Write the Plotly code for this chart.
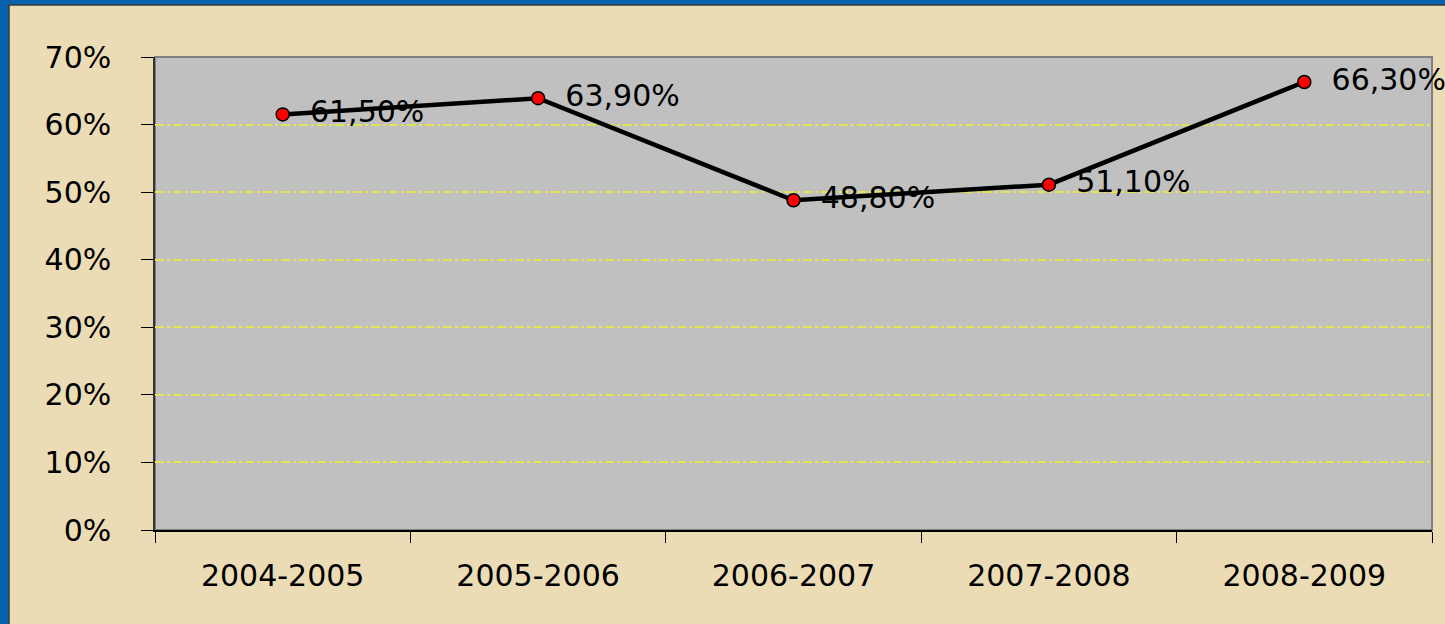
import plotly.graph_objects as go

categories = ["2004-2005", "2005-2006", "2006-2007", "2007-2008", "2008-2009"]
values = [0.615, 0.639, 0.488, 0.511, 0.663]
labels = ["61,50%", "63,90%", "48,80%", "51,10%", "66,30%"]
y_ticks = [0, 0.1, 0.2, 0.3, 0.4, 0.5, 0.6, 0.7]
y_tick_text = ["0%", "10%", "20%", "30%", "40%", "50%", "60%", "70%"]

W, H = 1445, 624
L, R, T, B = 155, 13, 57, 94
pw, ph = W - L - R, H - T - B

def px_x(p):
    return (p - L) / pw

def px_y(p):
    return (H - B - p) / ph

FONT = "DejaVu Sans"
PARCH = "#ecdcb5"

fig = go.Figure()

# labels underneath the line
fig.add_trace(go.Scatter(
    x=categories, y=values, mode="markers+text", text=labels,
    textposition="middle right",
    marker=dict(size=42, opacity=0),
    textfont=dict(family=FONT, size=30, color="#000000"),
    hoverinfo="skip", showlegend=False, cliponaxis=False,
))

fig.add_trace(go.Scatter(
    x=categories, y=values, mode="lines+markers",
    line=dict(color="#000000", width=4.5),
    marker=dict(size=13, color="#ff0000", line=dict(color="#000000", width=1.5)),
    showlegend=False, cliponaxis=False,
))

shapes = [
    # parchment panel over the blue frame
    dict(type="rect", xref="paper", yref="paper", layer="below",
         x0=px_x(9), x1=px_x(W + 5), y0=px_y(H + 5), y1=px_y(5),
         fillcolor=PARCH, line=dict(color="#3a3a3a", width=1.5)),
    # gray plot area
    dict(type="rect", xref="paper", yref="paper", layer="below",
         x0=0, x1=1, y0=0, y1=1,
         fillcolor="#c0c0c0", line=dict(color="#808080", width=2)),
]

fig.update_layout(
    width=W, height=H,
    margin=dict(l=L, r=R, t=T, b=B, pad=0),
    paper_bgcolor="#0763ad",
    plot_bgcolor="#c0c0c0",
    shapes=shapes,
    font=dict(family=FONT, size=30, color="#000000"),
    xaxis=dict(
        type="category", range=[-0.5, 4.5], tickson="boundaries",
        ticks="outside", ticklen=11, tickwidth=1, tickcolor="#000000",
        showgrid=False, showline=True, linecolor="#000000", linewidth=1.5,
        tickfont=dict(family=FONT, size=30, color="#000000"),
        ticklabelstandoff=18, fixedrange=True,
    ),
    yaxis=dict(
        range=[0, 0.7], tickvals=y_ticks, ticktext=y_tick_text,
        ticks="outside", ticklen=12, tickwidth=1, tickcolor="#000000",
        showgrid=True, gridcolor="#e4e450", gridwidth=1.5, griddash="dashdot",
        showline=True, linecolor="#333333", linewidth=1.5,
        zeroline=False,
        tickfont=dict(family=FONT, size=30, color="#000000"),
        ticklabelstandoff=24, fixedrange=True,
    ),
)

fig.write_html(
    "out.html",
    config={"displayModeBar": False},
    post_script="document.body.style.margin='0';document.body.style.overflow='hidden';",
)
